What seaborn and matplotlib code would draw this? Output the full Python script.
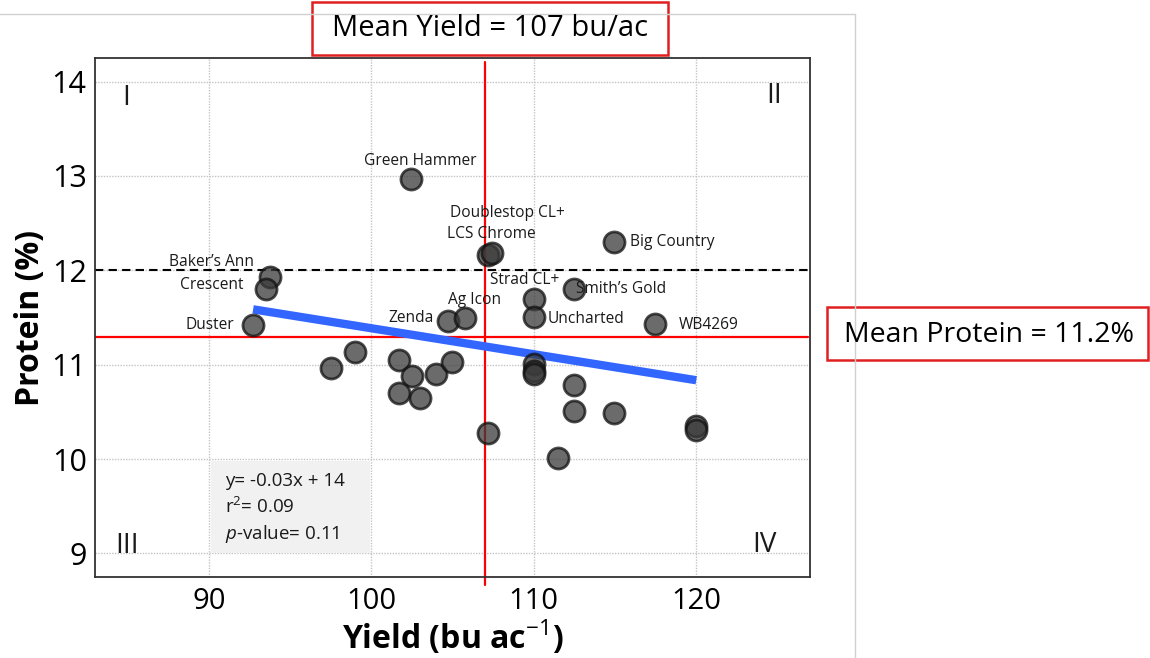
import numpy as np
import pandas as pd
import matplotlib
matplotlib.use("Agg")
import matplotlib.pyplot as plt
from matplotlib.patches import Rectangle
from matplotlib.lines import Line2D
import seaborn as sns

# ---------------- data ----------------
variety = ["Green Hammer", "Baker\u2019s Ann", "Crescent", "Duster", "", "", "", "", "", "", "", "",
           "Zenda", "Ag Icon", "", "Doublestop CL+", "LCS Chrome", "Big Country", "Strad CL+",
           "Uncharted", "Smith\u2019s Gold", "WB4269", "", "", "", "", "", "", "", "", ""]
yield_bu = [102.47, 93.75, 93.53, 92.73, 97.52, 98.98, 101.73, 102.50, 101.73, 102.98, 103.98, 104.96,
            104.72, 105.74, 107.18, 107.20, 107.45, 114.95, 110.00,
            110.00, 112.47, 117.47, 110.00, 110.00, 110.00, 112.47, 112.47, 114.95, 111.48, 120.00, 120.00]
protein = [12.97, 11.93, 11.80, 11.42, 10.97, 11.13, 11.05, 10.88, 10.70, 10.65, 10.90, 11.03,
           11.46, 11.50, 10.28, 12.16, 12.18, 12.30, 11.70,
           11.51, 11.80, 11.43, 11.01, 10.93, 10.90, 10.78, 10.51, 10.49, 10.01, 10.35, 10.31]

x_ticks = [90, 100, 110, 120]
y_ticks = [9, 10, 11, 12, 13, 14]
quadrants = ["I", "II", "III", "IV"]
mean_yield_line = 107
mean_protein_line = 11.29
protein_threshold = 12
stats_lines = ["y= -0.03x + 14", "r$^2$= 0.09", "$p$-value= 0.11"]
mean_yield_text = "Mean Yield = 107 bu/ac"
mean_protein_text = "Mean Protein = 11.2%"

df = pd.DataFrame({"Yield": yield_bu, "Protein": protein, "Variety": variety})

# ---------------- layout (text positions in data coords) ----------------
label_pos = {
    "Green Hammer": (103.0, 13.16),
    "Doublestop CL+": (108.35, 12.61),
    "LCS Chrome": (107.40, 12.38),
    "Big Country": (118.5, 12.30),
    "Baker\u2019s Ann": (90.18, 12.09),
    "Crescent": (90.21, 11.84),
    "Duster": (90.09, 11.42),
    "Strad CL+": (109.43, 11.90),
    "Smith\u2019s Gold": (115.36, 11.80),
    "Ag Icon": (106.35, 11.69),
    "Zenda": (102.42, 11.49),
    "Uncharted": (113.22, 11.48),
    "WB4269": (120.75, 11.42),
}
quad_pos = [(84.9, 13.83), (124.8, 13.85), (85.0, 9.08), (124.2, 9.09)]

# ---------------- style ----------------
sns.set_theme(style="white")
FONT = ["Open Sans", "DejaVu Sans"]
plt.rcParams["font.family"] = FONT
plt.rcParams["mathtext.fontset"] = "custom"
plt.rcParams["mathtext.rm"] = "Open Sans"
plt.rcParams["mathtext.it"] = "Open Sans:italic"
plt.rcParams["mathtext.bf"] = "Open Sans:bold"

fig = plt.figure(figsize=(11.5, 6.58), dpi=100)
fig.patch.set_facecolor("white")
ax = fig.add_axes([95 / 1150, 1 - 577 / 658, (810 - 95) / 1150, (577 - 58) / 658])

ax.set_xlim(83, 127)
ax.set_ylim(8.75, 14.25)
ax.set_xticks(x_ticks)
ax.set_yticks(y_ticks)
ax.grid(True, color="#c4c4c4", linestyle=(0, (1, 1)), linewidth=1.0)
ax.set_axisbelow(True)
for s in ax.spines.values():
    s.set_color("#333333")
    s.set_linewidth(1.3)

# stats box
ax.add_patch(Rectangle((90.15, 9.0), 9.8, 0.98, facecolor="#f1f1f1", edgecolor="none", zorder=1.5))
for i, t in enumerate(stats_lines):
    ax.text(91.0, 9.77 - i * 0.28, t, fontsize=13.5, color="#1a1a1a", ha="left", va="center",
            family=FONT, zorder=2)

# reference lines
ax.axhline(protein_threshold, color="black", linestyle=(0, (4, 2.5)), linewidth=1.5, zorder=2)
ax.axhline(mean_protein_line, xmax=(808 - 95) / (810 - 95), color="red", linewidth=1.6, zorder=2)
ax.axvline(mean_yield_line, ymin=(577 - 585) / (577 - 58), ymax=(577 - 62) / (577 - 58),
           color="red", linewidth=1.6, clip_on=False, zorder=2)

# regression line
sns.regplot(data=df, x="Yield", y="Protein", scatter=False, ci=None, truncate=True,
            line_kws={"color": "#3366FF", "linewidth": 6, "solid_capstyle": "butt", "zorder": 3}, ax=ax)

# points
sns.scatterplot(data=df, x="Yield", y="Protein", s=230, color="#3a3a3a", alpha=0.75,
                edgecolor="#111111", linewidth=2.0, ax=ax, zorder=4, legend=False)

# point labels
for name, (lx, ly) in label_pos.items():
    ax.text(lx, ly, name, fontsize=11.2, color="#1a1a1a", ha="center", va="center", zorder=5)

# quadrant labels
for q, (qx, qy) in zip(quadrants, quad_pos):
    ax.text(qx, qy, q, fontsize=20, color="#1a1a1a", ha="center", va="center", zorder=5)

ax.tick_params(axis="y", length=3, width=1, color="#333333", pad=3, labelsize=22, labelcolor="black")
ax.tick_params(axis="x", length=0, pad=7, labelsize=21, labelcolor="black")

ax.set_xlabel("Yield (bu ac$^{-1}$)", fontsize=23, fontweight="bold", color="black", labelpad=2)
ax.set_ylabel("Protein (%)", fontsize=23, fontweight="bold", color="black")
ax.yaxis.set_label_coords(-(95 - 47) / (810 - 95), (577 - 318) / (577 - 58))

# outer frame (slide region)
fig.add_artist(Line2D([0, 855 / 1150], [1 - 14 / 658, 1 - 14 / 658], color="#d0d0d0", linewidth=1.0))
fig.add_artist(Line2D([855 / 1150, 855 / 1150], [0, 1 - 14 / 658], color="#d0d0d0", linewidth=1.0))

# mean boxes
fig.add_artist(Rectangle((312 / 1150, 1 - 55 / 658), (668 - 312) / 1150, 53 / 658,
                         transform=fig.transFigure, facecolor="white", edgecolor="#e02020", linewidth=1.8))
fig.text(490 / 1150, 1 - 29 / 658, mean_yield_text, fontsize=21, color="black", ha="center", va="center")
fig.add_artist(Rectangle((827 / 1150, 1 - 360 / 658), (1148 - 827) / 1150, 53 / 658,
                         transform=fig.transFigure, facecolor="white", edgecolor="#e02020", linewidth=1.8))
fig.text(989 / 1150, 1 - 335 / 658, mean_protein_text, fontsize=20.5, color="black", ha="center", va="center")

fig.savefig("out.png", dpi=100)
